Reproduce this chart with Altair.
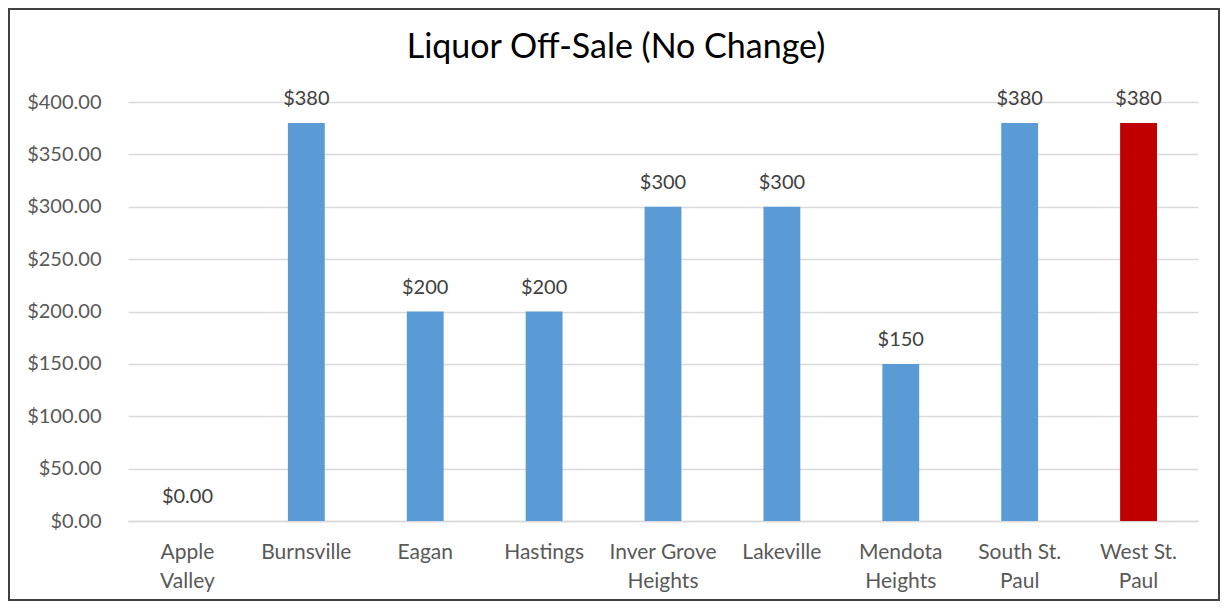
import altair as alt
import pandas as pd

cities = ["Apple Valley", "Burnsville", "Eagan", "Hastings", "Inver Grove Heights",
          "Lakeville", "Mendota Heights", "South St. Paul", "West St. Paul"]
city_lines = ["Apple\nValley", "Burnsville", "Eagan", "Hastings", "Inver Grove\nHeights",
              "Lakeville", "Mendota\nHeights", "South St.\nPaul", "West St.\nPaul"]
fees = [0, 380, 200, 200, 300, 300, 150, 380, 380]
fee_labels = ["$0.00", "$380", "$200", "$200", "$300", "$300", "$150", "$380", "$380"]
highlight = ["no", "no", "no", "no", "no", "no", "no", "no", "yes"]
title_text = ["Liquor Off-Sale (No Change)"]

df = pd.DataFrame({"city": cities, "city_lines": city_lines, "fee": fees,
                   "label": fee_labels, "hl": highlight})

FONT = "Lato"
W, H = 1070, 419

xenc = alt.X("city_lines:N", sort=city_lines, title=None,
             scale=alt.Scale(paddingInner=0.69, paddingOuter=0.345),
             axis=alt.Axis(labelExpr="split(datum.label, '\\n')", labelAngle=0,
                           labelFont=FONT, labelFontSize=21, labelColor="#595959",
                           labelLineHeight=29, labelPadding=20, ticks=False, grid=False,
                           domainColor="#D9D9D9", domainWidth=1.5, labelBaseline="top"))
yenc = alt.Y("fee:Q", title=None,
             scale=alt.Scale(domain=[0, 400], nice=False),
             axis=alt.Axis(values=[0, 50, 100, 150, 200, 250, 300, 350, 400],
                           format="$.2f", labelFont=FONT, labelFontSize=20,
                           labelColor="#595959", labelPadding=27, ticks=False,
                           domain=False, gridColor="#D9D9D9", gridWidth=1.5))

base = alt.Chart(df)

bars = base.mark_bar().encode(
    x=xenc, y=yenc,
    color=alt.Color("hl:N", scale=alt.Scale(domain=["no", "yes"], range=["#5B9BD5", "#C00000"]),
                    legend=None),
)

texts = base.mark_text(baseline="alphabetic", dy=-18, font=FONT, fontSize=20, color="#404040").encode(
    x=alt.X("city_lines:N", sort=city_lines), y="fee:Q", text="label:N"
)

title = alt.Chart(pd.DataFrame({"t": title_text})).mark_text(
    font=FONT, fontSize=34, color="#000000", align="center", baseline="middle"
).encode(x=alt.value(488), y=alt.value(-54), text="t:N")

frame = alt.Chart(pd.DataFrame({"k": [0]})).mark_rect(
    fill=None, stroke="#404040", strokeWidth=2, clip=False
).encode(x=alt.value(-119), x2=alt.value(W + 21), y=alt.value(-93), y2=alt.value(H + 79))

chart = alt.layer(bars, texts, title, frame).properties(
    width=W, height=H,
    autosize=alt.AutoSizeParams(type="none"),
    padding={"left": 120, "top": 94, "right": 23, "bottom": 81},
    background="white",
).configure_view(strokeWidth=0, stroke="transparent")

chart.save("out.html", embed_options={"renderer": "svg", "actions": False})
